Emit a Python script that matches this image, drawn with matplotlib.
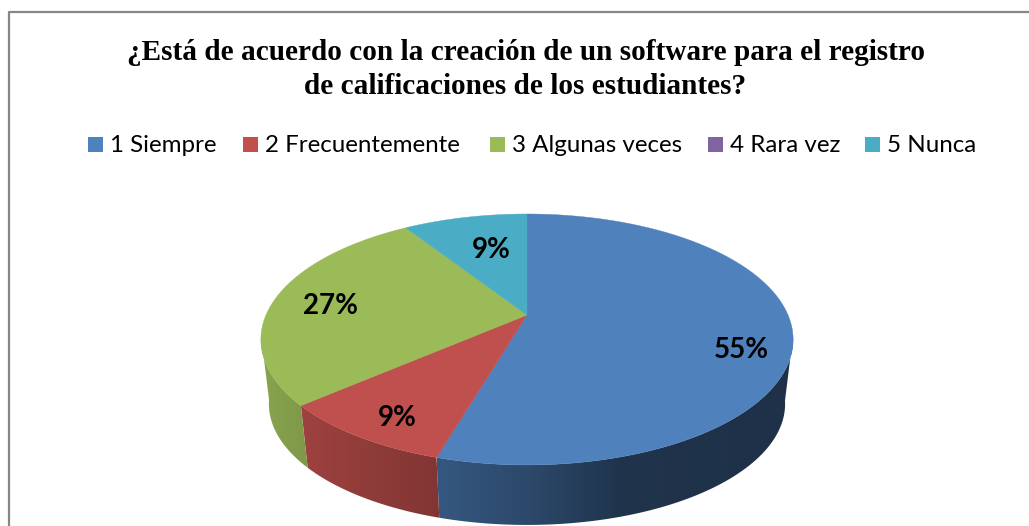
import matplotlib
matplotlib.use('Agg')
import matplotlib.pyplot as plt
from matplotlib.patches import Polygon, Rectangle
import numpy as np

title = '¿Está de acuerdo con la creación de un software para el registro\nde calificaciones de los estudiantes?'
categories = ['1 Siempre', '2 Frecuentemente', '3 Algunas veces', '4 Rara vez', '5 Nunca']
values = [6, 1, 3, 0, 1]
colors = ['#4F81BD', '#C0504D', '#9BBB59', '#8064A2', '#4BACC6']

label_pos = {0: (741, 350), 1: (397, 418), 2: (331, 306), 4: (491, 250)}
legend_x = [88, 243, 490, 708, 865]

# pie in perspective, pixel units
apex_x, apex_y = 527, 315
a, b, k = 261, 120.7, 0.195


def project(phi):
    u, v = np.sin(phi), np.cos(phi)
    w = 1 + k * v
    return apex_x + a * u / w, apex_y - b * v / w


def to_bottom(x, y):
    return apex_x + (x - apex_x) * 258 / 266, 404 + (y - 339.5) * 121 / 125.5


def shade(x):
    return np.interp(x, [261, 302, 440, 530, 620, 793], [.88, .82, .67, .56, .40, .38])


fig = plt.figure(figsize=(10.29, 5.26), dpi=100)
ax = fig.add_axes([0, 0, 1, 1])

# chart frame, only left and top are in the picture
ax.plot([9, 9, 1029], [526, 12, 12], color='#868686', lw=1.6, zorder=1)

fractions = np.cumsum([0] + values) / sum(values)
for i, val in enumerate(values):
    if val == 0:
        continue
    phis = np.linspace(fractions[i], fractions[i + 1], 200) * 2 * np.pi
    xs, ys = project(phis)
    base = np.array(matplotlib.colors.to_rgb(colors[i]))
    # side wall, gradient clipped to the wall outline
    keep = ys > 335
    if keep.any():
        bx, by = to_bottom(xs[keep], ys[keep])
        wall = Polygon(np.vstack([np.column_stack([xs[keep], ys[keep]]), np.column_stack([bx, by])[::-1]]),
                       facecolor='none', edgecolor='none', transform=ax.transData)
        ax.add_patch(wall)
        gx = np.linspace(xs[keep].min(), max(xs[keep].max(), bx.max()), 256)
        grad = (base[None, :] * shade(gx)[:, None])[None, :, :]
        im = ax.imshow(grad, extent=[gx[0], gx[-1], by.max() + 1, ys[keep].min() - 1], aspect='auto',
                       interpolation='bilinear', zorder=2)
        im.set_clip_path(wall)
    # top face
    ax.add_patch(Polygon(np.vstack([[apex_x, apex_y], np.column_stack([xs, ys])]),
                         facecolor=base, edgecolor=base, lw=0.3, zorder=3))

for i, pos in label_pos.items():
    ax.text(pos[0], pos[1], '%d%%' % round(100 * values[i] / sum(values)), fontsize=20, fontweight='bold',
            family='Lato', ha='center', va='center', color='black', zorder=4)

ax.text(526, 53, title.split('\n')[0], fontsize=21.1, fontweight='bold', family='Liberation Serif', ha='center',
        va='center', color='black')
ax.text(525, 86, title.split('\n')[1], fontsize=21.1, fontweight='bold', family='Liberation Serif', ha='center',
        va='center', color='black')

for i, name in enumerate(categories):
    ax.add_patch(Rectangle((legend_x[i], 137), 15, 15, facecolor=colors[i], edgecolor='none'))
    ax.text(legend_x[i] + 22, 145, name, fontsize=17.4, family='Lato', ha='left', va='center', color='black')

ax.set_xlim(0, 1029)
ax.set_ylim(526, 0)
ax.axis('off')
fig.savefig('out.png', dpi=100)
